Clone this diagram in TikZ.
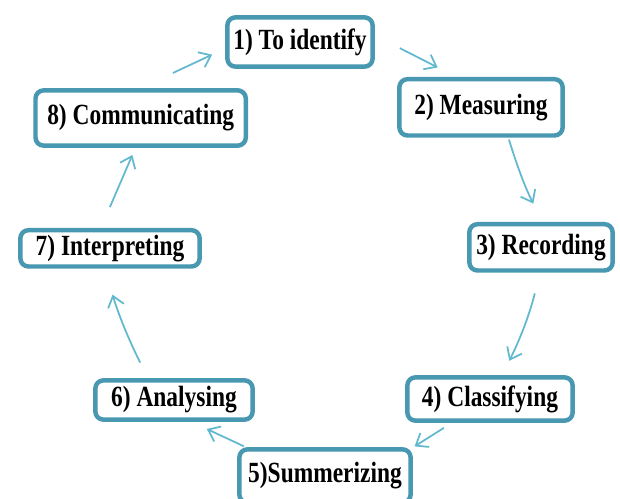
\documentclass[tikz,border=0pt]{standalone}
\usepackage{fontspec}
\setmainfont[FakeStretch=0.8]{Liberation Serif}
\definecolor{boxteal}{RGB}{72,152,178}
\definecolor{arrowblue}{RGB}{98,184,206}
\usetikzlibrary{arrows.meta}

\begin{document}
\begin{tikzpicture}[
    stepbox/.style={draw=boxteal, line width=3.8pt, rounded corners=7pt,
                    fill=white, inner sep=0pt, align=center,
                    font=\fontsize{25}{29}\selectfont\bfseries},
    arr/.style={-{Straight Barb[length=9pt,width=14pt]}, line width=1.5pt, arrowblue}
  ]
    \useasboundingbox (0,0) rectangle (18.6,14.94);

    \node[stepbox, minimum width=4.36cm, minimum height=1.48cm] (ident) at (9.00, 13.68)
      {1) To identify};
    \node[stepbox, minimum width=4.90cm, minimum height=1.69cm] (meas) at (14.43, 11.72)
      {2) Measuring};
    \node[stepbox, minimum width=4.30cm, minimum height=1.39cm] (rec) at (16.23, 7.52)
      {3) Recording};
    \node[stepbox, minimum width=4.96cm, minimum height=1.30cm] (class) at (14.70, 2.97)
      {4) Classifying};
    \node[stepbox, minimum width=5.14cm, minimum height=1.60cm] (summ) at (9.75, 0.66)
      {5)Summerizing};
    \node[stepbox, minimum width=4.72cm, minimum height=1.18cm] (anal) at (5.22, 2.94)
      {6) Analysing};
    \node[stepbox, minimum width=5.38cm, minimum height=1.09cm] (interp) at (3.30, 7.49)
      {7) Interpreting};
    \node[stepbox, minimum width=6.31cm, minimum height=1.66cm] (comm) at (4.22, 11.40)
      {8) Communicating};

    \draw[arr, shorten <=0.84cm, shorten >=0.63cm] (ident.5) -- (meas.129);
    \draw[arr, shorten <=0.06cm, shorten >=0.62cm] (meas.-48) to[bend right=5] (rec.86);
    \draw[arr, shorten <=0.64cm, shorten >=0.48cm] (rec.-92) to[bend left=6] (class.63);
    \draw[arr, shorten <=0.28cm, shorten >=0.06cm] (class.212) -- (summ.18);
    \draw[arr, shorten <=0.06cm, shorten >=0.50cm] (summ.160) -- (anal.-51);
    \draw[arr, shorten <=0.52cm, shorten >=0.81cm] (anal.140) to[bend left=5] (interp.-104);
    \draw[arr, shorten <=0.68cm, shorten >=0.23cm] (interp.114) -- (comm.-100);
    \draw[arr, shorten <=1.07cm, shorten >=0.43cm] (comm.90) -- (ident.185);
  \end{tikzpicture}
\end{document}
